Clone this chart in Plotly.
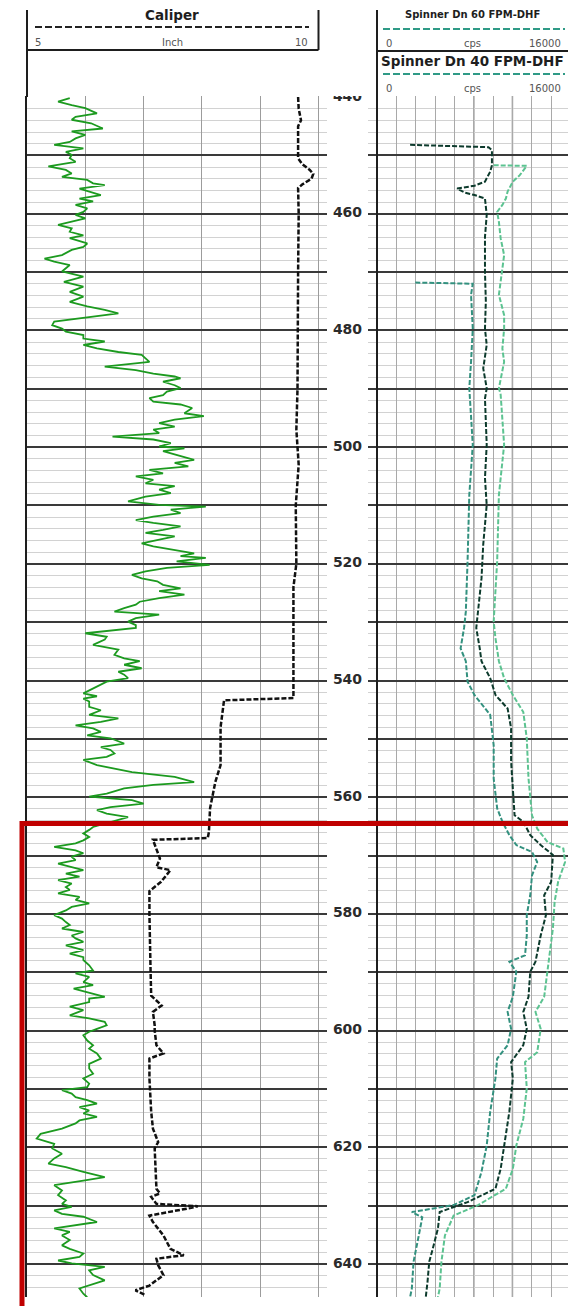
import plotly.graph_objects as go

W, H = 568, 1306

# ---------------- data ----------------
gr_depth = [440.2,440.8,441.4,441.9,442.8,443.4,443.9,444.5,445.4,445.9,446.5,447.1,447.7,448.2,448.8,449.4,449.9,450.5,451.1,451.9,452.5,453.1,453.7,454.2,454.8,455.1,455.7,456.2,456.8,457.4,457.9,458.5,459.1,459.7,460.2,460.8,461.4,461.9,462.5,463.1,463.7,464.2,465.1,465.7,466.2,467.1,467.7,468.2,468.8,469.4,469.9,470.8,471.7,472.5,473.4,474.2,475.1,475.9,476.5,477.1,477.7,478.5,479.1,479.7,480.2,480.8,481.4,481.9,482.5,483.1,483.7,484.2,484.8,485.4,486.2,486.8,487.4,487.9,488.2,488.8,489.4,489.9,490.5,491.1,
            491.6,492.2,492.7,493.3,494.2,494.7,495.3,495.9,496.5,497.0,497.6,498.2,498.7,499.3,499.9,500.2,500.7,501.6,502.2,502.7,503.3,503.9,504.5,505.0,505.6,506.2,506.7,507.3,507.9,508.5,509.3,509.9,510.2,510.7,511.3,511.9,512.5,513.0,513.6,514.2,514.7,515.3,515.9,516.5,517.0,517.6,518.2,518.7,519.0,519.6,520.2,520.7,521.3,521.9,522.5,523.0,523.6,524.2,524.7,525.3,525.9,526.5,527.0,527.6,528.2,528.7,529.3,529.9,530.5,531.0,531.9,532.5,533.0,533.9,534.7,535.6,536.2,536.7,537.3,537.9,538.5,539.0,539.6,540.2,540.7,541.3,542.2,542.7,
            543.1,543.6,544.5,545.1,545.9,546.5,547.1,547.7,548.2,548.8,549.4,549.9,550.8,551.4,551.9,552.5,553.1,553.6,554.5,555.7,556.5,557.4,557.9,558.5,559.4,559.9,560.5,561.1,561.7,562.2,562.8,563.4,563.9,564.5,565.1,565.6,566.2,566.8,567.4,567.9,568.5,569.1,569.6,570.2,570.8,571.4,571.9,572.5,573.1,573.6,574.2,574.8,575.4,575.9,576.5,577.1,577.6,578.2,578.8,579.4,580.2,580.8,581.4,581.9,582.5,583.1,583.7,584.2,584.8,585.4,586.2,586.8,587.4,587.9,588.8,589.7,590.2,590.8,591.7,592.2,592.8,593.4,594.2,
            594.5,595.1,595.9,596.5,597.4,597.9,598.5,599.1,599.7,600.2,600.8,601.7,602.5,603.1,603.9,604.8,605.7,606.5,607.4,608.2,609.1,609.7,610.2,610.8,611.4,611.9,612.5,613.1,613.7,614.2,614.8,615.4,615.9,616.8,617.7,618.5,619.4,620.2,621.1,621.9,622.8,623.4,624.2,625.1,625.7,626.5,627.4,628.2,629.1,629.7,630.2,630.8,631.4,631.9,632.8,633.4,633.9,634.5,635.1,635.9,636.8,637.4,638.2,638.8,639.4,639.9,640.5,641.1,641.9,642.8,643.6,644.2,645.1,645.7]
gr_api = [22,16,23,30,36,25,23,33,39,23,30,25,22,14,29,20,23,22,25,11,20,23,18,31,34,40,27,32,38,27,34,25,31,29,25,30,22,16,23,22,29,22,31,29,23,18,9,14,22,20,18,29,19,29,22,29,22,31,40,47,32,14,13,18,20,29,29,40,29,36,47,59,61,63,40,56,65,76,79,70,76,79,72,70,
          63,65,79,85,81,91,76,68,76,65,68,44,65,74,68,81,70,79,86,76,83,63,70,56,65,61,76,68,74,61,52,68,92,74,79,65,56,65,79,70,61,76,67,59,65,76,86,79,92,77,94,72,61,54,59,67,70,79,68,81,68,58,56,50,45,68,56,52,56,56,30,41,40,34,47,45,50,58,50,59,47,50,52,41,38,34,29,36,
          29,32,32,38,32,47,38,25,34,38,31,43,50,38,43,45,41,29,36,54,76,86,65,50,41,32,54,60,43,36,41,52,47,40,34,32,29,32,29,25,14,25,29,23,25,16,22,29,20,27,16,23,20,22,16,27,25,32,23,20,14,18,20,22,18,29,23,25,29,20,29,22,29,29,32,34,25,32,29,34,24,31,40,
          32,32,22,29,22,32,40,41,36,32,29,31,34,32,36,38,32,32,34,29,32,31,18,23,25,31,36,27,32,29,36,27,25,18,7,5,14,13,18,14,11,20,29,40,29,14,18,16,20,18,23,14,18,29,36,25,14,22,18,22,18,22,29,27,16,23,40,32,34,40,32,27,29,31]

cal_depth = [440.0,442.0,444.0,445.0,450.5,451.5,452.5,453.2,454.0,455.0,455.6,460.0,470.0,480.0,490.0,497.0,503.0,510.0,520.0,524.0,530.0,543.0,543.4,545.0,548.0,554.5,557.4,561.9,566.0,567.0,567.3,570.5,572.0,572.5,574.5,576.1,580.0,590.0,594.0,
             595.7,596.8,599.1,600.0,602.5,603.9,604.8,608.2,613.9,616.8,619.1,620.2,627.1,627.9,628.5,629.7,630.1,630.5,631.7,632.8,635.1,637.4,638.5,639.1,640.2,641.9,643.7,644.5,645.4]
cal_inch = [9.65,9.66,9.70,9.65,9.65,9.72,9.85,9.91,9.88,9.72,9.65,9.66,9.65,9.65,9.64,9.62,9.66,9.61,9.62,9.57,9.57,9.57,8.38,8.36,8.32,8.32,8.23,8.14,8.12,8.10,7.16,7.28,7.22,7.46,7.30,7.10,7.10,7.12,7.13,
            7.31,7.16,7.19,7.19,7.22,7.34,7.10,7.10,7.13,7.16,7.25,7.19,7.22,7.28,7.13,7.22,7.93,7.75,7.10,7.16,7.34,7.46,7.69,7.22,7.25,7.34,7.10,6.86,7.04]

spin_a_depth = [448.2,448.6,449.1,451.7,452.8,454.5,455.2,455.7,456.4,456.8,457.4,460.2,464.0,470.0,475.0,479.7,482.5,486.5,489.9,491.7,499.6,505.3,509.9,516.7,522.5,528.2,531.0,534.5,536.7,539.6,542.5,544.8,548.2,553.9,559.7,563.1,564.2,566.5,568.2,569.9,574.5,576.8,580.2,583.7,588.2,589.9,594.2,596.8,599.7,602.5,605.4,608.2,613.9,619.7,623.7,627.1,629.4,631.1,633.9,637.4,639.6,643.1,645.7]
spin_a_cps = [2736,9216,9504,9504,9360,8928,8064,6624,7300,8064,8928,9072,8928,8928,9000,8928,9072,8784,9072,8928,9072,8928,9072,8784,8640,8352,8208,8496,8640,9360,9800,10800,11088,11088,11232,11376,12096,12672,13536,14544,14400,13824,13968,13536,13104,12672,12528,12096,12384,12096,11088,11232,10944,10512,10224,9792,7488,5184,5040,4608,4320,4176,4032]

spin_b_depth = [471.8,472.0,473.9,479.7,485.4,489.9,499.6,508.2,519.6,528.2,531.0,534.5,536.7,540.2,542.5,545.9,551.1,556.8,561.9,564.2,566.5,568.2,569.4,571.1,573.4,576.8,580.2,583.7,587.1,588.2,589.9,594.2,596.8,599.7,602.5,604.8,608.2,613.9,619.7,624.2,628.2,629.9,631.1,632.0,635.1,639.6,644.2,645.7]
spin_b_cps = [3168,7920,7776,7920,7776,7632,7920,7632,7488,7344,7200,6912,7344,7488,8064,9360,9648,9648,9936,10368,10944,11520,12816,13248,12816,12672,12384,12384,12240,10944,11520,11232,10800,11088,10800,9936,9792,9360,9072,8640,8064,6336,2880,3744,3456,3024,2880,2736]

spin_c_depth = [451.7,451.8,453.4,454.5,456.2,457.4,458.5,459.7,461.4,464.2,467.1,471.7,473.9,477.4,479.7,483.1,485.4,489.9,491.0,499.6,508.2,519.6,525.3,529.9,532.7,536.7,539.6,542.5,545.4,549.9,556.8,559.7,563.1,565.4,567.7,568.8,571.1,574.5,577.9,582.5,587.1,589.9,594.2,596.8,599.7,603.7,605.4,609.9,615.1,619.7,623.7,627.1,629.9,631.7,635.1,639.6,644.2,645.7]
spin_c_cps = [9648,12384,11808,11232,10800,10656,10368,9936,10080,10224,10512,10224,10080,10512,10512,10368,10512,10080,10224,10512,10080,9936,9792,9648,9792,10080,10512,11232,12096,12384,12528,12672,12816,13248,14112,15408,15552,14976,14688,14544,14256,14112,13824,13104,13536,13248,12240,12384,12096,11520,11232,10656,8352,6336,5616,5328,5184,5040]

depth_ticks = [440, 460, 480, 500, 520, 540, 560, 580, 600, 620, 640]

# ---------------- geometry helpers (pixel -> paper) ----------------
def px(x): return x / W
def py(y): return 1 - y / H

Y_TOP, Y_BOT = 96, 1297
PX_PER_FT = 5.835
y_dom = [py(Y_BOT), py(Y_TOP)]
y_range = [440 + (Y_BOT - 97) / PX_PER_FT, 440 - (97 - Y_TOP) / PX_PER_FT]

GREEN = '#1c9a1f'
DARK = '#0c3a2c'
TEAL = '#33917f'
LIGHT = '#5cc391'
HDR_TEAL = '#2f9a86'

fig = go.Figure()
fig.add_trace(go.Scatter(x=gr_api, y=gr_depth, xaxis='x2', yaxis='y', mode='lines',
                         line=dict(color=GREEN, width=1.8), name='GR'))
fig.add_trace(go.Scatter(x=cal_inch, y=cal_depth, xaxis='x', yaxis='y', mode='lines',
                         line=dict(color='#111111', width=2.5, dash='5px,2px'), name='Caliper'))
fig.add_trace(go.Scatter(x=spin_b_cps, y=spin_b_depth, xaxis='x3', yaxis='y', mode='lines',
                         line=dict(color=TEAL, width=2, dash='5px,2px'), name='Spinner Dn 60 FPM-DHF'))
fig.add_trace(go.Scatter(x=spin_c_cps, y=spin_c_depth, xaxis='x3', yaxis='y', mode='lines',
                         line=dict(color=LIGHT, width=2, dash='5px,2px'), name='Spinner Dn 40 FPM-DHF'))
fig.add_trace(go.Scatter(x=spin_a_cps, y=spin_a_depth, xaxis='x3', yaxis='y', mode='lines',
                         line=dict(color=DARK, width=2, dash='5px,2px'), name='Spinner'))
fig.add_trace(go.Scatter(x=[0.5] * len(depth_ticks), y=depth_ticks, xaxis='x4', yaxis='y2',
                         mode='text', text=[str(d) for d in depth_ticks], cliponaxis=True,
                         textfont=dict(family='DejaVu Sans', size=14, color='#2b2b2b', weight='bold'),
                         textposition='middle center', hoverinfo='skip'))

noax = dict(showticklabels=False, ticks='', zeroline=False)
fig.update_layout(
    width=W, height=H, margin=dict(l=0, r=0, t=0, b=0),
    paper_bgcolor='white', plot_bgcolor='white', showlegend=False,
    xaxis=dict(domain=[px(27), px(327)], range=[5, 5 + 300 / 58.3], dtick=1, tick0=5,
               showgrid=True, gridcolor='#9c9c9c', gridwidth=1, anchor='y', **noax),
    xaxis2=dict(overlaying='x', range=[0, 150 * 300 / 291.5], visible=False, anchor='y'),
    xaxis3=dict(domain=[px(368), 1], range=[-9 * 16000 / 193.5, 191 * 16000 / 193.5], dtick=1600, tick0=0,
                showgrid=True, gridcolor='#a9a9a9', gridwidth=1, anchor='y',
                showticklabels=False, ticks='', zeroline=True, zerolinecolor='#1e1e1e', zerolinewidth=2),
    xaxis4=dict(domain=[px(327), px(368)], range=[0, 1], visible=False, anchor='y2'),
    yaxis=dict(domain=y_dom, range=y_range, dtick=10, tick0=0, showgrid=True,
               gridcolor='#3a3a3a', gridwidth=2,
               minor=dict(dtick=2, tick0=0, showgrid=True, gridcolor='#d2d2d2', gridwidth=1),
               showline=True, linecolor='#1e1e1e', linewidth=2, anchor='x', **noax),
    yaxis2=dict(domain=y_dom, matches='y', visible=False, anchor='x4'),
)

shapes = []
# darker spinner grid lines
for v in (8000, 11200):
    shapes.append(dict(type='line', xref='x3', yref='paper', x0=v, x1=v, y0=y_dom[0], y1=y_dom[1],
                       line=dict(color='#7a7a7a', width=1.4), layer='below'))
# header frame lines
def hline(x0, x1, y, color='#1e1e1e', width=2, dash='solid'):
    shapes.append(dict(type='line', xref='paper', yref='paper', x0=px(x0), x1=px(x1), y0=py(y), y1=py(y),
                       line=dict(color=color, width=width, dash=dash)))
def vline(x, y0, y1, color='#1e1e1e', width=2):
    shapes.append(dict(type='line', xref='paper', yref='paper', x0=px(x), x1=px(x), y0=py(y0), y1=py(y1),
                       line=dict(color=color, width=width)))
vline(27, 10, 97)
vline(318.5, 10, 50)
hline(27, 318.5, 50)
vline(377, 10, 97)
hline(377, 568, 51)
hline(35, 309, 27, color='#222222', width=2, dash='7px,3px')
hline(383, 565, 29, color=HDR_TEAL, width=2, dash='7px,3px')
hline(383, 565, 74, color=HDR_TEAL, width=2, dash='7px,3px')
# red highlight frame
shapes.append(dict(type='rect', xref='paper', yref='paper', x0=px(22), x1=px(580), y0=py(1320), y1=py(823.5),
                   line=dict(color='#c00000', width=5), layer='above'))
fig.update_layout(shapes=shapes)

def ann(text, x, y, size, bold=False, xanchor='center', color='#2b2b2b', family='DejaVu Sans'):
    return dict(text=text, x=px(x), y=py(y), xref='paper', yref='paper', showarrow=False,
                xanchor=xanchor, yanchor='middle',
                font=dict(family=family, size=size, color=color, weight='bold' if bold else 'normal'))

annotations = [
    ann('Caliper', 172, 15, 13.5, bold=True, color='#1e1e1e'),
    ann('5', 38, 42, 10, color='#555555'),
    ann('Inch', 172, 42, 10, color='#555555'),
    ann('10', 310, 42, 10, xanchor='right', color='#555555'),
    ann('Spinner Dn 60 FPM-DHF', 472, 14, 10, bold=True, color='#1e1e1e'),
    ann('0', 389, 43, 10, color='#555555'),
    ann('cps', 473, 43, 10, color='#555555'),
    ann('16000', 563, 43, 10, xanchor='right', color='#555555'),
    ann('Spinner Dn 40 FPM-DHF', 473, 61, 13.5, bold=True, color='#1e1e1e'),
    ann('0', 389, 88, 10, color='#555555'),
    ann('cps', 473, 88, 10, color='#555555'),
    ann('16000', 563, 88, 10, xanchor='right', color='#555555'),
]
fig.update_layout(annotations=annotations)

fig.write_html('out.html', config={'displayModeBar': False},
               post_script="document.body.style.margin='0';document.body.style.padding='0';")
